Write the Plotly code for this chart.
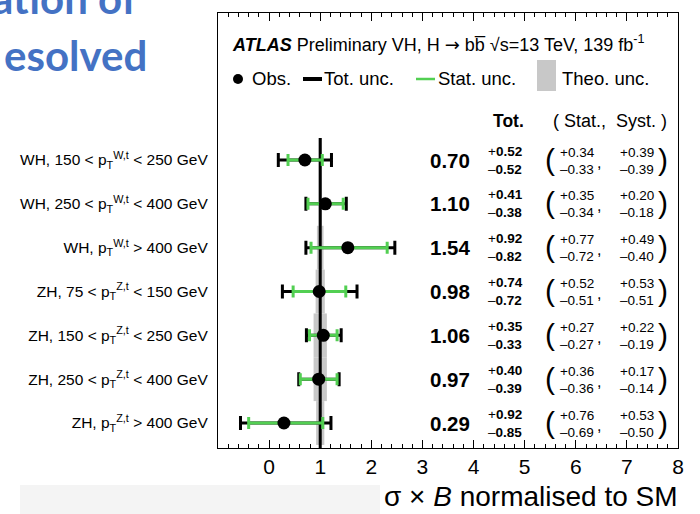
import plotly.graph_objects as go

# ---------------- data ----------------
labels = [
    "WH, 150 < p<sub>T</sub><sup>W,t</sup> < 250 GeV",
    "WH, 250 < p<sub>T</sub><sup>W,t</sup> < 400 GeV",
    "WH, p<sub>T</sub><sup>W,t</sup> > 400 GeV",
    "ZH, 75 < p<sub>T</sub><sup>Z,t</sup> < 150 GeV",
    "ZH, 150 < p<sub>T</sub><sup>Z,t</sup> < 250 GeV",
    "ZH, 250 < p<sub>T</sub><sup>Z,t</sup> < 400 GeV",
    "ZH, p<sub>T</sub><sup>Z,t</sup> > 400 GeV",
]
ypos = [7, 6, 5, 4, 3, 2, 1]
mu = [0.70, 1.10, 1.54, 0.98, 1.06, 0.97, 0.29]
tot_up = [0.52, 0.41, 0.92, 0.74, 0.35, 0.40, 0.92]
tot_dn = [0.52, 0.38, 0.82, 0.72, 0.33, 0.39, 0.85]
stat_up = [0.34, 0.35, 0.77, 0.52, 0.27, 0.36, 0.76]
stat_dn = [0.33, 0.34, 0.72, 0.51, 0.27, 0.36, 0.69]
syst_up = [0.39, 0.20, 0.49, 0.53, 0.22, 0.17, 0.53]
syst_dn = [0.39, 0.18, 0.40, 0.51, 0.19, 0.14, 0.50]
theo = [0.03, 0.03, 0.065, 0.09, 0.13, 0.13, 0.08]
SM = 1.0
x_ticks = [0, 1, 2, 3, 4, 5, 6, 7, 8]

FONT = "Liberation Sans, Arial, Helvetica, sans-serif"
GREEN = "#52cf52"
GREY = "#c8c8c8"

# layout geometry (pixels)
W, H = 700, 514
L, R, T, B = 218, 22, 13, 66
PW, PH = W - L - R, H - T - B


def px(xp):
    return (xp - L) / PW


def py(yp):
    return (H - B - yp) / PH


fig = go.Figure()

# theory band
fig.add_trace(go.Bar(
    orientation="h", y=ypos, x=[2 * t for t in theo], base=[SM - t for t in theo],
    width=1.0, marker=dict(color=GREY, line=dict(width=0)), showlegend=False,
    hoverinfo="skip"))

# SM line
fig.add_trace(go.Scatter(
    x=[SM, SM], y=[0.43, 7.5], mode="lines", line=dict(color="black", width=3),
    showlegend=False, hoverinfo="skip"))

# total uncertainty
fig.add_trace(go.Scatter(
    x=mu, y=ypos, mode="markers", marker=dict(color="rgba(0,0,0,0)", size=1),
    error_x=dict(type="data", symmetric=False, array=tot_up, arrayminus=tot_dn,
                 color="black", thickness=3, width=7),
    showlegend=False))

# stat uncertainty
fig.add_trace(go.Scatter(
    x=mu, y=ypos, mode="markers", marker=dict(color="rgba(0,0,0,0)", size=1),
    error_x=dict(type="data", symmetric=False, array=stat_up, arrayminus=stat_dn,
                 color=GREEN, thickness=3, width=6),
    showlegend=False))

# observed
fig.add_trace(go.Scatter(
    x=mu, y=ypos, mode="markers", marker=dict(color="black", size=13),
    showlegend=False))

ann = []


def A(text, x, y, size, xanchor="left", yanchor="middle", yref="paper", yshift=0, color="black", family=FONT):
    ann.append(dict(text=text, x=x, y=y, xref="paper", yref=yref, xanchor=xanchor,
                    yanchor=yanchor, showarrow=False, yshift=yshift,
                    font=dict(size=size, color=color, family=family)))


# header
A("<b><i>ATLAS</i></b> Preliminary VH, H <span style='font-family:DejaVu Sans'>\u2192</span> bb\u0305 \u221as=13 TeV, 139 fb<sup>-1</sup>",
  px(230), py(43), 18)
# legend
A("Obs.", px(250), py(79), 18.5)
A("Tot. unc.", px(322), py(79), 18.5)
A("Stat. unc.", px(436), py(79), 18.5)
A("Theo. unc.", px(560), py(79), 18.5)
# column header
A("<b>Tot.</b>", px(491), py(121), 17.5)
A("( Stat.,  Syst. )", px(551), py(121), 18)

for i in range(len(mu)):
    A("<b>%.2f</b>" % mu[i], px(472), ypos[i], 20.5, xanchor="right", yref="y")
    A("+<b>%.2f</b>" % tot_up[i], px(486), ypos[i], 13.5, yref="y", yshift=9)
    A("\u2013<b>%.2f</b>" % tot_dn[i], px(486), ypos[i], 13.5, yref="y", yshift=-9)
    A("(", px(550), ypos[i], 30, xanchor="center", yref="y", yshift=1)
    A("+%.2f" % stat_up[i], px(558), ypos[i], 13.5, yref="y", yshift=8)
    A("\u2013%.2f" % stat_dn[i], px(558), ypos[i], 13.5, yref="y", yshift=-9)
    A(",", px(599), ypos[i], 16, xanchor="center", yref="y", yshift=-2)
    A("+%.2f" % syst_up[i], px(618), ypos[i], 13.5, yref="y", yshift=8)
    A("\u2013%.2f" % syst_dn[i], px(618), ypos[i], 13.5, yref="y", yshift=-9)
    A(")", px(663), ypos[i], 30, xanchor="center", yref="y", yshift=1)

# axis title
A("\u03c3 \u00d7 <i>B</i> normalised to SM", px(680), py(496), 28, xanchor="right")

# slide title fragments
A("<b>ation of</b>", px(139), py(-2), 42, xanchor="right", color="#4472C4", family="Lato, Calibri, sans-serif")
A("<b>esolved</b>", px(149), py(55), 42, xanchor="right", color="#4472C4", family="Lato, Calibri, sans-serif")

shapes = [
    # legend keys
    dict(type="circle", xref="paper", yref="paper", x0=px(233), x1=px(243),
         y0=py(84), y1=py(74), fillcolor="black", line=dict(width=0)),
    dict(type="line", xref="paper", yref="paper", x0=px(303), x1=px(322),
         y0=py(79), y1=py(79), line=dict(color="black", width=4)),
    dict(type="line", xref="paper", yref="paper", x0=px(416), x1=px(435),
         y0=py(79), y1=py(79), line=dict(color=GREEN, width=2.5)),
    dict(type="rect", xref="paper", yref="paper", x0=px(537), x1=px(556),
         y0=py(91), y1=py(60), fillcolor=GREY, line=dict(width=0)),
    # light slide band at bottom
    dict(type="rect", xref="paper", yref="paper", x0=px(20), x1=px(380),
         y0=py(514), y1=py(485), fillcolor="#f4f4f4", line=dict(width=0), layer="below"),
]

fig.update_layout(
    width=W, height=H,
    margin=dict(l=L, r=R, t=T, b=B, pad=0),
    paper_bgcolor="white", plot_bgcolor="white",
    showlegend=False,
    barmode="overlay",
    annotations=ann,
    shapes=shapes,
    font=dict(family=FONT, color="black"),
    xaxis=dict(
        range=[-1, 8], tickvals=x_ticks, ticktext=[str(v) for v in x_ticks],
        ticks="inside", ticklen=8, tickwidth=1.2, tickcolor="black",
        showline=True, linecolor="black", linewidth=1.3, mirror="ticks",
        showgrid=False, zeroline=False,
        tickfont=dict(size=21, family=FONT, color="black"),
        minor=dict(dtick=0.2, tick0=0, ticks="inside", ticklen=4, tickwidth=1, tickcolor="black", showgrid=False),
    ),
    yaxis=dict(
        range=[0.43, 10.354], tickvals=ypos, ticktext=labels,
        ticks="", showline=True, linecolor="black", linewidth=1.3, mirror=True,
        showgrid=False, zeroline=False, ticklabelstandoff=6,
        tickfont=dict(size=15.5, family=FONT, color="black"),
    ),
)

fig.write_html("out.html")
